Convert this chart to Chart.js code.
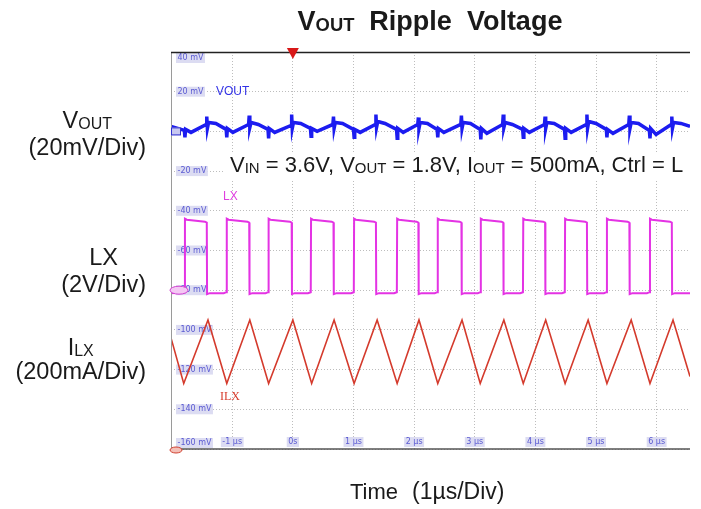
<!DOCTYPE html>
<html><head><meta charset="utf-8">
<script src="https://cdn.jsdelivr.net/npm/chart.js@4.4.0/dist/chart.umd.min.js"></script>
<style>html,body{margin:0;padding:0;background:#fff}canvas{display:block}</style>
</head><body>
<canvas id="c" width="701" height="509" style="width:701px;height:509px"></canvas>
<script>
// ---- data (time in µs, values in scope screen units "mV") ----
const voutT = [-2.01,-1.90,-1.79,-1.78,-1.77,-1.68,
 -1.43,-1.42,-1.41,-1.39,-1.27,-1.10,-1.09,-1.08,-0.99,
 -0.73,-0.72,-0.71,-0.69,-0.57,-0.41,-0.40,-0.39,-0.30,
 -0.03,-0.02,-0.01,0.01,0.13,0.29,0.30,0.31,0.40,
 0.66,0.67,0.68,0.70,0.82,1.00,1.01,1.02,1.11,
 1.36,1.37,1.38,1.40,1.52,1.71,1.72,1.73,1.82,
 2.06,2.07,2.08,2.10,2.22,2.38,2.39,2.40,2.49,
 2.77,2.78,2.79,2.81,2.93,3.09,3.10,3.11,3.20,
 3.46,3.47,3.48,3.50,3.62,3.79,3.80,3.81,3.90,
 4.15,4.16,4.17,4.19,4.31,4.48,4.49,4.50,4.59,
 4.84,4.85,4.86,4.88,5.00,5.17,5.18,5.19,5.28,
 5.54,5.55,5.56,5.58,5.70,5.88,5.89,5.90,5.99,
 6.24,6.25,6.26,6.28,6.40,6.55];
const voutV = [2.5,1.5,0.5,-3,1,-0.5,
 3.5,7.5,1.5,4.5,4,1,-3,1.5,-0.5,
 3.5,8,2,4.5,3.5,1,-3.5,1.5,-0.5,
 3,8.5,1.5,4.5,4,1.5,-2.5,1.5,0,
 3.5,7.5,1.5,4.5,4,1,-3,1,-0.5,
 3.5,8.5,2,5,4,1,-3.5,1.5,-0.5,
 3.5,7,1.5,4.5,4,1,-3,1.5,-0.5,
 3.5,8,1.5,4.5,4,1,-4,1.5,-1,
 3.5,8.5,2,4.5,3.5,1,-3,1.5,-0.5,
 3.5,7.5,1.5,4.5,4,1,-3.5,1.5,-0.5,
 3.5,8.5,1.5,5,4,1,-3,1,-1,
 3.5,8,1.5,4.5,4,0.5,-3.5,1.5,-1.5,
 3.5,7.5,1.5,4.5,4,2.5];

const lxT = [-2.01,-1.79,
 -1.78,-1.75,-1.45,-1.42,-1.415,-1.37,-1.14,-1.095,
 -1.09,-1.06,-0.75,-0.72,-0.715,-0.67,-0.45,-0.405,
 -0.40,-0.37,-0.05,-0.02,-0.015,0.03,0.25,0.295,
 0.30,0.33,0.64,0.67,0.675,0.72,0.96,1.005,
 1.01,1.04,1.34,1.37,1.375,1.42,1.67,1.715,
 1.72,1.75,2.04,2.07,2.075,2.12,2.34,2.385,
 2.39,2.42,2.75,2.78,2.785,2.83,3.05,3.095,
 3.10,3.13,3.44,3.47,3.475,3.52,3.75,3.795,
 3.80,3.83,4.13,4.16,4.165,4.21,4.44,4.485,
 4.49,4.52,4.82,4.85,4.855,4.90,5.13,5.175,
 5.18,5.21,5.52,5.55,5.555,5.60,5.84,5.885,
 5.89,5.92,6.22,6.25,6.255,6.30,6.55];
const lxV = [-81.5,-81,
 -44,-44.5,-45.5,-46,-82,-81.5,-81.5,-81,
 -44,-44.5,-45.5,-46,-82,-81.5,-81.5,-81,
 -44,-44.5,-45.5,-46,-82,-81.5,-81.5,-81,
 -44,-44.5,-45.5,-46,-82,-81.5,-81.5,-81,
 -44,-44.5,-45.5,-46,-82,-81.5,-81.5,-81,
 -44,-44.5,-45.5,-46,-82,-81.5,-81.5,-81,
 -44,-44.5,-45.5,-46,-82,-81.5,-81.5,-81,
 -44,-44.5,-45.5,-46,-82,-81.5,-81.5,-81,
 -44,-44.5,-45.5,-46,-82,-81.5,-81.5,-81,
 -44,-44.5,-45.5,-46,-82,-81.5,-81.5,-81,
 -44,-44.5,-45.5,-46,-82,-81.5,-81.5,-81,
 -44,-44.5,-45.5,-46,-82,-81.5,-81.5];

const ilxT = [-2.01,-1.80,-1.40,-1.09,-0.71,-0.40,0.00,0.31,0.68,1.01,1.39,1.72,2.08,2.39,2.79,3.09,3.48,3.80,4.17,4.49,4.87,5.18,5.58,5.89,6.27,6.55];
const ilxV = [-104,-127,-95,-127,-95,-127,-95,-127,-95,-127,-95,-127,-95,-127,-95,-127,-95,-127,-95,-127,-95,-127,-95,-127,-95,-123.5];

const xTickValues = [-1,0,1,2,3,4,5,6];
const xTickLabels = ['-1 µs','0s','1 µs','2 µs','3 µs','4 µs','5 µs','6 µs'];
const yTickValues = [40,20,0,-20,-40,-60,-80,-100,-120,-140,-160];
const yTickLabels = ['40 mV','20 mV','','-20 mV','-40 mV','-60 mV','-80 mV','-100 mV','-120 mV','-140 mV','-160 mV'];

const seriesNames = ['VOUT','LX','ILX'];
const sideNames = [[['V',1],['OUT',0.68]], [['LX',1]], [['I',1],['LX',0.68]]];
const sideUnits = ['(20mV/Div)','(2V/Div)','(200mA/Div)'];
const titleParts = [['V',1],['OUT',0.68],['  Ripple  Voltage',1]];
const noteParts = [['V',1],['IN',0.68],[' = 3.6V, V',1],['OUT',0.68],[' = 1.8V, I',1],['OUT',0.68],[' = 500mA, Ctrl = L',1]];
const xAxisTitle = ['Time','(1µs/Div)'];

const zip = (t, v) => t.map((x, i) => ({x, y: v[i]}));
const SANS = "'Liberation Sans', Arial, sans-serif";

function drawRich(ctx, parts, size, weight, x, y, align) {
  let w = 0;
  parts.forEach(p => { ctx.font = weight + ' ' + (size * p[1]) + 'px ' + SANS; w += ctx.measureText(p[0]).width; });
  let cx = align === 'center' ? x - w / 2 : (align === 'right' ? x - w : x);
  ctx.textAlign = 'left'; ctx.textBaseline = 'alphabetic';
  parts.forEach(p => {
    ctx.font = weight + ' ' + (size * p[1]) + 'px ' + SANS;
    ctx.fillText(p[0], cx, y + (p[1] < 1 ? 1 : 0));
    cx += ctx.measureText(p[0]).width;
  });
  return w;
}

const scopePlugin = {
  id: 'scope',
  beforeDatasetsDraw(chart) {
    const ctx = chart.ctx, a = chart.chartArea, xs = chart.scales.x, ys = chart.scales.y;
    ctx.save();
    ctx.fillStyle = '#fff';
    ctx.fillRect(224, 152, a.right - 224, 29);
    ctx.font = "8px 'DejaVu Sans', sans-serif";
    ctx.textBaseline = 'middle';
    yTickValues.forEach((v, i) => {
      const t = yTickLabels[i]; if (!t) return;
      let y = ys.getPixelForValue(v);
      y = Math.max(a.top + 6, Math.min(a.bottom - 6, y));
      const w = ctx.measureText(t).width;
      ctx.fillStyle = '#dcdcf2';
      ctx.fillRect(a.left + 5, y - 5, w + 3, 10);
      ctx.fillStyle = '#5a5ad2';
      ctx.textAlign = 'left';
      ctx.fillText(t, a.left + 6.5, y);
    });
    xTickValues.forEach((v, i) => {
      const x = xs.getPixelForValue(v);
      const t = xTickLabels[i];
      const w = ctx.measureText(t).width;
      ctx.fillStyle = '#dcdcf2';
      ctx.fillRect(x - w / 2 - 1.5, a.bottom - 12, w + 3, 10);
      ctx.fillStyle = '#5a5ad2';
      ctx.textAlign = 'center';
      ctx.fillText(t, x, a.bottom - 7);
    });
    ctx.font = "12px " + SANS;
    ctx.textAlign = 'left';
    ctx.fillStyle = '#3333e6'; ctx.fillText(seriesNames[0], 216, ys.getPixelForValue(20));
    ctx.fillStyle = '#e040e0'; ctx.fillText(seriesNames[1], 223, 197);
    ctx.fillStyle = '#d63a2a'; ctx.font = "12px 'Liberation Serif', serif"; ctx.fillText(seriesNames[2], 220, 397);
    ctx.restore();
  },
  afterDatasetsDraw(chart) {
    const ctx = chart.ctx, a = chart.chartArea, xs = chart.scales.x, ys = chart.scales.y;
    ctx.save();
    ctx.strokeStyle = '#9a9a9a'; ctx.lineWidth = 1;
    ctx.beginPath(); ctx.moveTo(a.left + 0.5, a.top); ctx.lineTo(a.left + 0.5, a.bottom); ctx.stroke();
    ctx.strokeStyle = '#222'; ctx.lineWidth = 1.5;
    ctx.beginPath(); ctx.moveTo(a.left, a.top + 0.5); ctx.lineTo(a.right, a.top + 0.5); ctx.stroke();
    ctx.strokeStyle = '#555'; ctx.lineWidth = 1.5;
    ctx.beginPath(); ctx.moveTo(a.left, a.bottom); ctx.lineTo(a.right, a.bottom); ctx.stroke();
    const tx = xs.getPixelForValue(0);
    ctx.fillStyle = '#d81818';
    ctx.beginPath(); ctx.moveTo(tx - 6, a.top - 4); ctx.lineTo(tx + 6, a.top - 4); ctx.lineTo(tx, a.top + 7); ctx.closePath(); ctx.fill();
    let y0 = ys.getPixelForValue(0);
    ctx.fillStyle = '#c8c8f0'; ctx.fillRect(a.left, y0 - 4, 10, 8);
    ctx.strokeStyle = '#3030d0'; ctx.lineWidth = 1; ctx.strokeRect(a.left + 0.5, y0 - 3.5, 9, 7);
    let y2 = ys.getPixelForValue(-80);
    ctx.fillStyle = '#f4c8f4'; ctx.strokeStyle = '#d040d0';
    ctx.beginPath(); ctx.ellipse(a.left + 8, y2, 9, 4, 0, 0, Math.PI * 2); ctx.fill(); ctx.stroke();
    ctx.fillStyle = '#f4c0b8'; ctx.strokeStyle = '#d04030';
    ctx.beginPath(); ctx.ellipse(a.left + 5, a.bottom + 1, 6, 3, 0, 0, Math.PI * 2); ctx.fill(); ctx.stroke();
    ctx.restore();
  },
  afterDraw(chart) {
    const ctx = chart.ctx;
    ctx.save();
    ctx.fillStyle = '#1a1a1a';
    drawRich(ctx, titleParts, 27, 'bold', 430, 30, 'center');
    const unitBase = [155, 292, 379], nameBase = [128, 265, 355];
    sideUnits.forEach((u, i) => {
      ctx.font = '23.5px ' + SANS;
      const w = ctx.measureText(u).width;
      ctx.textAlign = 'right'; ctx.fillText(u, 146, unitBase[i]);
      drawRich(ctx, sideNames[i], 23.5, 'normal', 146 - w / 2, nameBase[i], 'center');
    });
    drawRich(ctx, noteParts, 22, 'normal', 230, 172, 'left');
    ctx.font = '22px ' + SANS; ctx.textAlign = 'left';
    ctx.fillText(xAxisTitle[0], 350, 499);
    ctx.font = '23px ' + SANS;
    ctx.fillText(xAxisTitle[1], 412, 499);
    ctx.restore();
  }
};

new Chart(document.getElementById('c'), {
  type: 'line',
  data: {
    datasets: [
      {label: seriesNames[0], data: zip(voutT, voutV), borderColor: '#1c1cf0', borderWidth: 3.5, pointRadius: 0, tension: 0},
      {label: seriesNames[1], data: zip(lxT, lxV), borderColor: '#e433e4', borderWidth: 2, pointRadius: 0, tension: 0},
      {label: seriesNames[2], data: zip(ilxT, ilxV), borderColor: '#d43a2c', borderWidth: 1.6, pointRadius: 0, tension: 0}
    ]
  },
  options: {
    responsive: false, animation: false, devicePixelRatio: 1,
    layout: {padding: {left: 171, right: 11, top: 52, bottom: 60}},
    plugins: {legend: {display: false}, tooltip: {enabled: false}, title: {display: false}},
    scales: {
      x: {type: 'linear', min: -2.01, max: 6.55,
          afterBuildTicks: s => { s.ticks = xTickValues.map(v => ({value: v})); },
          ticks: {display: false}, grid: {color: '#bdbdbd', lineWidth: 1, drawTicks: false},
          border: {display: false, dash: [1, 2]}},
      y: {type: 'linear', min: -160, max: 40,
          afterBuildTicks: s => { s.ticks = yTickValues.map(v => ({value: v})); },
          ticks: {display: false}, grid: {color: '#bdbdbd', lineWidth: 1, drawTicks: false},
          border: {display: false, dash: [1, 2]}}
    }
  },
  plugins: [scopePlugin]
});
</script>
</body></html>
